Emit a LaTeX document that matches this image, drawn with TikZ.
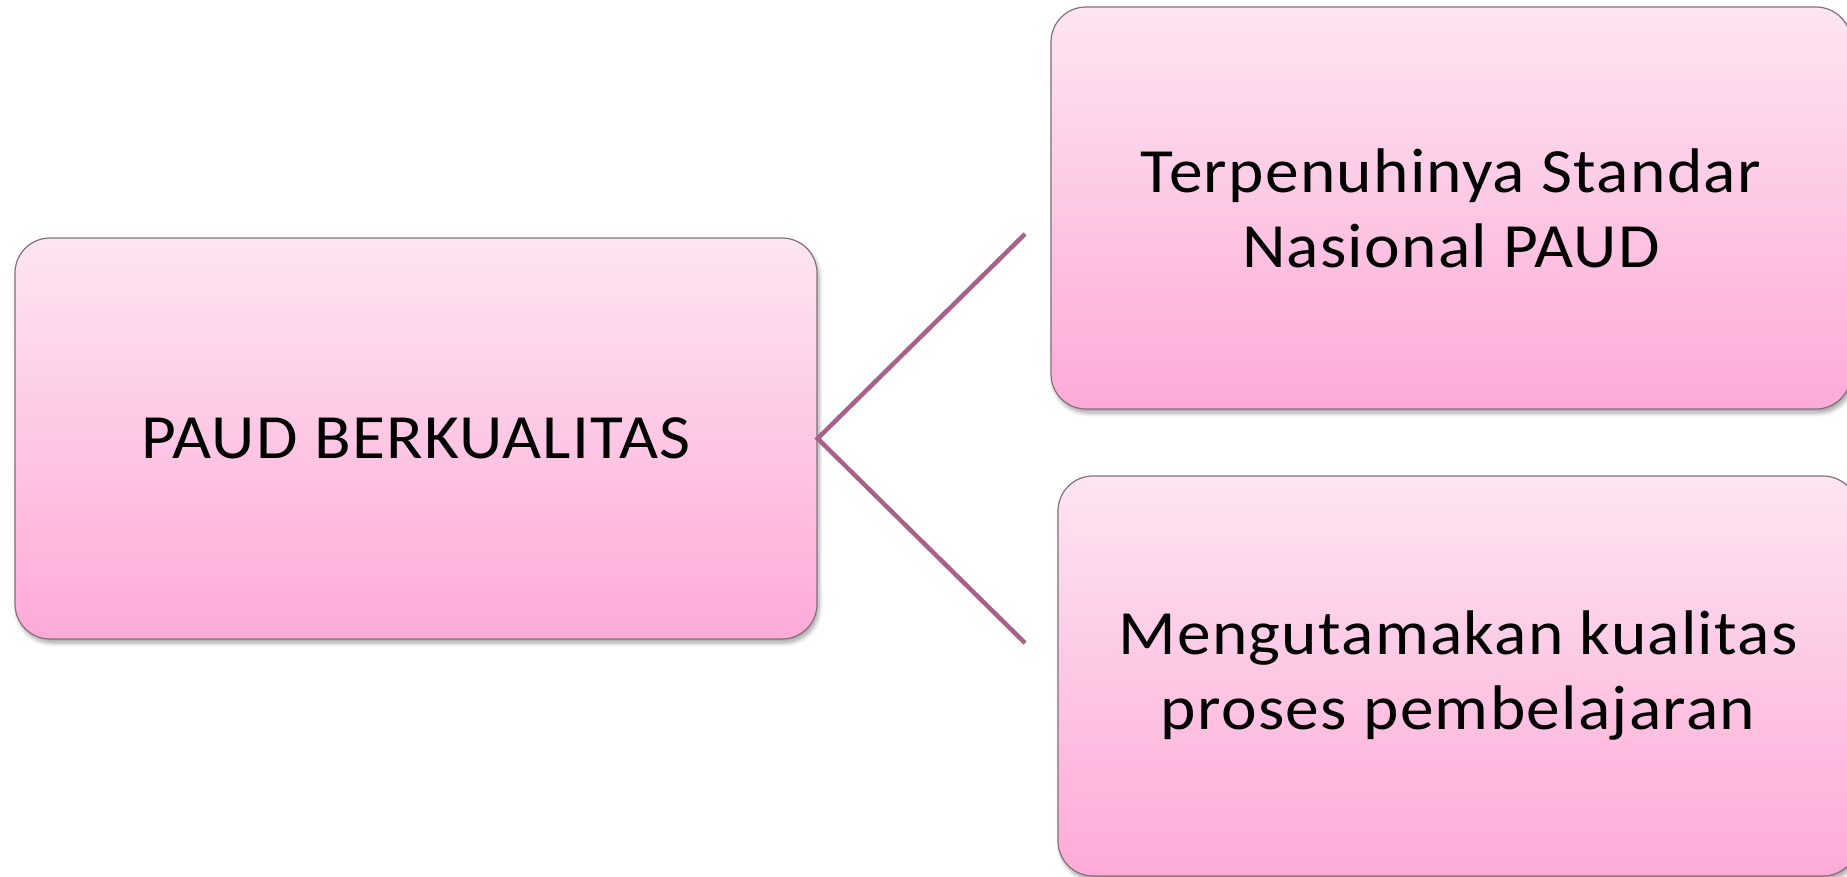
\documentclass[tikz,border=0pt]{standalone}
\usepackage{fontspec}
\setmainfont[FakeStretch=1.07,LetterSpace=2]{Carlito}
\usetikzlibrary{shadows.blur}
\definecolor{boxtop}{RGB}{253,229,242}
\definecolor{boxbot}{RGB}{254,170,215}
\definecolor{boxedge}{RGB}{130,112,122}
\definecolor{linkc}{RGB}{168,98,138}
\tikzset{
  pinkbox/.style={draw=boxedge, line width=1.2pt, rounded corners=35pt,
    top color=boxtop, bottom color=boxbot, align=center,
    inner sep=0pt, font=\fontsize{63}{75}\selectfont,
    blur shadow={shadow xshift=2pt, shadow yshift=-4pt, shadow blur steps=6, shadow opacity=35, shadow blur radius=4pt}},
  link/.style={draw=linkc, line width=4.5pt}
}
\begin{document}
\begin{tikzpicture}[x=1pt,y=-1pt]
\useasboundingbox (0,0) rectangle (1847,877);
\node[pinkbox, minimum width=802pt, minimum height=401pt] (L) at (416,438.5) {PAUD BERKUALITAS};
\node[pinkbox, minimum width=800pt, minimum height=402pt] (T) at (1451,208) {Terpenuhinya Standar\\Nasional PAUD};
\node[pinkbox, minimum width=800pt, minimum height=400pt] (B) at (1458,676) {Mengutamakan kualitas\\proses pembelajaran};
\coordinate (tu) at (1025,234);
\coordinate (td) at (1025,643);
\draw[link] (tu) -- (L.east) -- (td);
\end{tikzpicture}
\end{document}
